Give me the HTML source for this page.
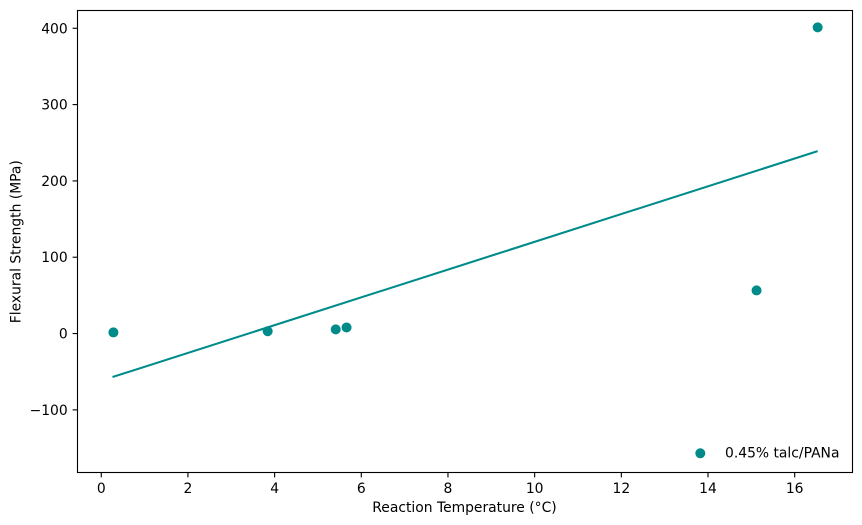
<!DOCTYPE html>
<html>
<head>
<meta charset="utf-8">
<style>
html,body{margin:0;padding:0;background:#fff;width:862px;height:525px;overflow:hidden}
svg{display:block}
text{font-family:"DejaVu Sans","Liberation Sans",sans-serif;font-size:13.89px;fill:#000}
</style>
</head>
<body>
<svg id="chart" width="862" height="525" viewBox="0 0 862 525" xmlns="http://www.w3.org/2000/svg">
  <rect x="77.5" y="10.5" width="775" height="462" fill="#fff"/>
  <g id="marks"></g>
  <g id="axes"></g>
  <rect x="77.5" y="10.5" width="775" height="462" fill="none" stroke="#000" stroke-width="1.11"/>
  <text x="464.5" y="512" text-anchor="middle">Reaction Temperature (°C)</text>
  <text x="0" y="0" text-anchor="middle" transform="translate(20.5,241.7) rotate(-90)">Flexural Strength (MPa)</text>
  <g>
    <circle cx="700.3" cy="453.3" r="5" fill="#008b8b"/>
    <text x="725" y="457.3">0.45% talc/PANa</text>
  </g>
</svg>
<script>
const temperatures = [0.28, 3.84, 5.41, 5.66, 15.12, 16.53];
const strengths = [1.5, 3, 5.5, 8, 56.5, 401.2];
const fitTemperatures = [0.26, 16.53];
const fitStrengths = [-57, 239];
const xTicks = [0, 2, 4, 6, 8, 10, 12, 14, 16];
const yTicks = [-100, 0, 100, 200, 300, 400];

const NS = 'http://www.w3.org/2000/svg';
const sx = v => 101.25 + v * 43.34;
const sy = v => 333.55 - v * 0.7632;
const marks = document.getElementById('marks');
const axes = document.getElementById('axes');
function make(tag, attrs, parent) {
  const el = document.createElementNS(NS, tag);
  for (const k in attrs) el.setAttribute(k, attrs[k]);
  parent.appendChild(el);
  return el;
}
const fit = make('polyline', {
  points: fitTemperatures.map((t, i) => sx(t) + ',' + sy(fitStrengths[i])).join(' '),
  fill: 'none', stroke: '#008b8b', 'stroke-width': 2.08
}, marks);


temperatures.forEach((t, i) => {
  const c = make('circle', {cx: sx(t), cy: sy(strengths[i]), r: 5, fill: '#008b8b'}, marks);
  
  
});
xTicks.forEach(t => {
  const x = sx(t);
  const tick = make('line', {x1: x, x2: x, y1: 472.5, y2: 477.4, stroke: '#000', 'stroke-width': 1.11}, axes);
  
  
  const label = make('text', {x: x, y: 493, 'text-anchor': 'middle'}, axes);
  label.textContent = String(t);
  
  
});
yTicks.forEach(t => {
  const y = sy(t);
  const tick = make('line', {x1: 72.6, x2: 77.5, y1: y, y2: y, stroke: '#000', 'stroke-width': 1.11}, axes);
  
  
  const label = make('text', {x: 67.7, y: y + 5, 'text-anchor': 'end'}, axes);
  label.textContent = String(t).replace('-', '\u2212');
  
  
});
</script>
</body>
</html>
